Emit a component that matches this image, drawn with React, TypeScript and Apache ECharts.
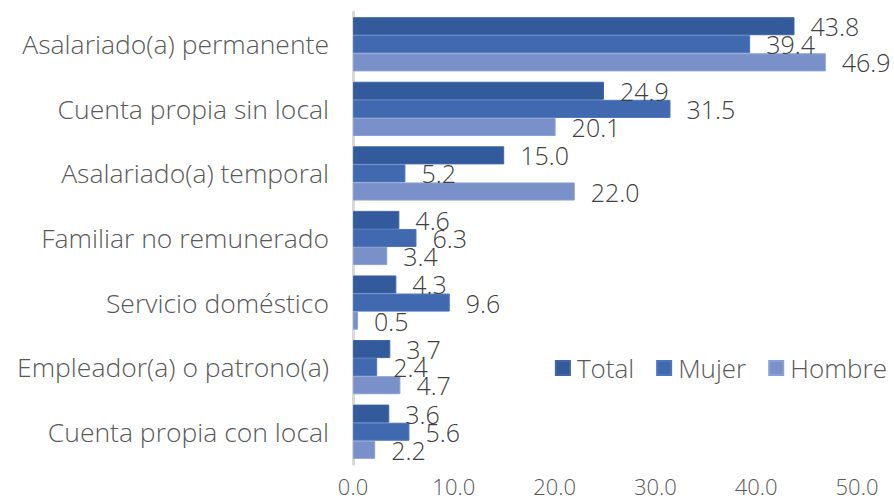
import React, { useEffect, useRef } from "react";
import * as echarts from "echarts";

const categories = [
  "Asalariado(a) permanente",
  "Cuenta propia sin local",
  "Asalariado(a) temporal",
  "Familiar no remunerado",
  "Servicio doméstico",
  "Empleador(a) o patrono(a)",
  "Cuenta propia con local",
];
const totalValues = [43.8, 24.9, 15.0, 4.6, 4.3, 3.7, 3.6];
const mujerValues = [39.4, 31.5, 5.2, 6.3, 9.6, 2.4, 5.6];
const hombreValues = [46.9, 20.1, 22.0, 3.4, 0.5, 4.7, 2.2];
const seriesNames = ["Total", "Mujer", "Hombre"];
const colors = ["#335A9A", "#4169B0", "#7A90C8"];
const borderColors = ["#3F67A8", "#4D76BD", "#8C9FD2"];

const FONT = "'Open Sans', sans-serif";
const WEIGHT = 300;

export default function App() {
  const ref = useRef<HTMLDivElement>(null);
  useEffect(() => {
    if (!ref.current) return;
    const chart = echarts.init(ref.current, undefined, { renderer: "svg" });
    const data = [totalValues, mujerValues, hombreValues];
    chart.setOption({
      animation: false,
      textStyle: { fontFamily: FONT },
      grid: { left: 353, right: 37, top: 12, bottom: 35, containLabel: false },
      legend: {
        right: 2,
        top: 350,
        itemWidth: 14,
        itemHeight: 14,
        itemGap: 22,
        icon: "rect",
        textStyle: { fontFamily: FONT, fontWeight: WEIGHT, fontSize: 26, color: "#595959", padding: [0, 0, 0, 2] },
        data: seriesNames,
      },
      xAxis: {
        type: "value",
        min: 0,
        max: 50,
        interval: 10,
        axisLine: { show: false },
        axisTick: { show: false },
        splitLine: { show: false },
        axisLabel: {
          formatter: (v: number) => v.toFixed(1),
          fontFamily: FONT,
          fontWeight: WEIGHT,
          fontSize: 22,
          color: "#595959",
          margin: 11,
        },
      },
      yAxis: {
        type: "category",
        inverse: true,
        data: categories,
        axisLine: { show: true, lineStyle: { color: "#D9D9D9", width: 3 } },
        axisTick: { show: false },
        axisLabel: {
          fontFamily: FONT,
          fontWeight: WEIGHT,
          fontSize: 26.5,
          color: "#595959",
          margin: 24,
        },
      },
      series: seriesNames.map((name, i) => ({
        name,
        type: "bar",
        data: data[i],
        barGap: "0%",
        barCategoryGap: "16%",
        itemStyle: { color: colors[i], borderColor: borderColors[i], borderWidth: 1 },
        label: {
          show: true,
          position: "right",
          distance: 16,
          fontFamily: FONT,
          fontWeight: WEIGHT,
          fontSize: 25,
          color: "#404040",
          formatter: (p: any) => Number(p.value).toFixed(1),
        },
      })),
    });
    return () => chart.dispose();
  }, []);
  return (
    <div
      ref={ref}
      style={{ position: "fixed", left: 0, top: 0, width: 894, height: 499, background: "#fff" }}
    />
  );
}
